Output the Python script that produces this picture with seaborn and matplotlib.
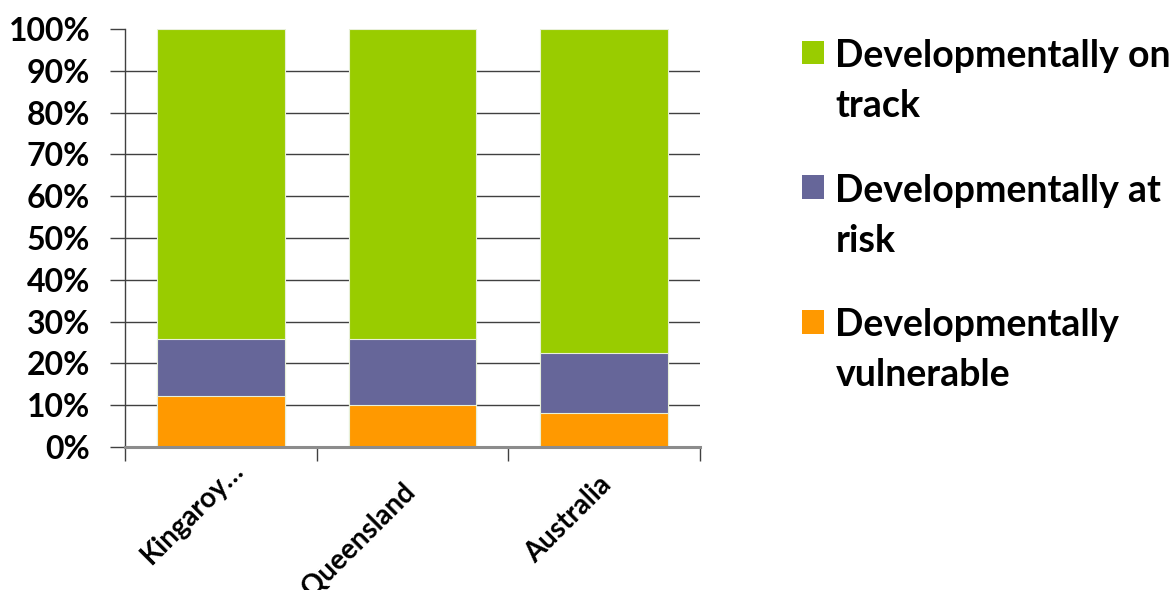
import matplotlib
matplotlib.use("Agg")
import matplotlib.pyplot as plt
import matplotlib.transforms as mtransforms
from matplotlib.patches import Rectangle
from matplotlib.legend_handler import HandlerPatch
import seaborn as sns
import pandas as pd
from matplotlib.ticker import FixedLocator, PercentFormatter

# Share of children in each developmental category (%)
regions = ["Kingaroy…", "Queensland", "Australia"]
vulnerable = [12.2, 10.0, 8.1]
at_risk = [13.6, 15.8, 14.5]
on_track = [74.2, 74.2, 77.4]

series_names = ["Developmentally on\ntrack", "Developmentally at\nrisk", "Developmentally\nvulnerable"]
colors = ["#99CC00", "#666699", "#FF9900"]

# per-label placement of the rotated category names (pixels: right, down)
label_offsets = [(9, 10), (-11, 32), (-6, 24)]

sns.set_theme(style="white")
plt.rcParams["font.family"] = ["Lato", "DejaVu Sans"]
plt.rcParams["font.weight"] = "bold"
plt.rcParams["text.color"] = "black"
plt.rcParams["xtick.labelcolor"] = "black"
plt.rcParams["ytick.labelcolor"] = "black"

df = pd.DataFrame({
    "region": regions,
    "vulnerable": vulnerable,
    "at_risk": at_risk,
    "on_track": on_track,
})
# cumulative tops for stacking
df["top_vuln"] = df["vulnerable"]
df["top_risk"] = df["vulnerable"] + df["at_risk"]
df["top_track"] = df["top_risk"] + df["on_track"]

fig = plt.figure(figsize=(11.72, 5.90), dpi=100)
ax = fig.add_axes([0.1067, 0.2424, 0.4905, 0.7084])

for col, name, c in zip(["top_track", "top_risk", "top_vuln"], series_names, colors):
    sns.barplot(data=df, x="region", y=col, color=c, saturation=1, width=0.665,
                edgecolor="#E8F0D8", linewidth=0.8, label=name, ax=ax, zorder=3)
if ax.get_legend() is not None:
    ax.get_legend().remove()

ax.set_xlim(-0.5, 2.5)
ax.set_ylim(0, 100)
ax.set_xlabel("")
ax.set_ylabel("")

# horizontal gridlines (no line at the top)
for v in range(10, 100, 10):
    ax.axhline(v, color="#404040", lw=1.0, zorder=1)

ax.yaxis.set_major_locator(FixedLocator(list(range(0, 101, 10))))
ax.yaxis.set_major_formatter(PercentFormatter(decimals=0))
ax.tick_params(axis="y", which="major", direction="out", length=11, width=1,
               color="#404040", labelsize=23, pad=14, left=True, labelcolor="black")
for lbl in ax.get_yticklabels():
    lbl.set_fontweight("bold")

# category boundaries as downward ticks; names drawn rotated below
ax.set_xticks([-0.5, 0.5, 1.5, 2.5], minor=True)
ax.tick_params(axis="x", which="minor", direction="out", length=10, width=1,
               color="#404040", bottom=True)
ax.tick_params(axis="x", which="major", length=0, labelbottom=False)
base = ax.get_xaxis_transform()
for i, (name, (dx, dy)) in enumerate(zip(regions, label_offsets)):
    tr = base + mtransforms.ScaledTranslation(dx / 100, -dy / 100, fig.dpi_scale_trans)
    ax.text(i, 0, name, transform=tr, rotation=45, rotation_mode="anchor",
            ha="right", va="top", fontsize=20, fontweight="bold", color="black")

for s in ["top", "right"]:
    ax.spines[s].set_visible(False)
ax.spines["left"].set_color("#404040")
ax.spines["left"].set_linewidth(1)
ax.spines["bottom"].set_color("#8C8C8C")
ax.spines["bottom"].set_linewidth(2.2)
ax.spines["bottom"].set_zorder(4)


def first_line_square(legend, orig_handle, xdescent, ydescent, width, height, fontsize):
    # square keyed to the first line of a two-line label
    return Rectangle((-xdescent, -ydescent + 21), width, height)


legend_fs = 27
handles = [Rectangle((0, 0), 1, 1, facecolor=c, edgecolor="none") for c in colors]
leg = fig.legend(handles, series_names, loc="upper left",
                 bbox_to_anchor=(802 / 1172, 1 - 39 / 590),
                 frameon=False, prop={"family": "Lato", "weight": "bold", "size": legend_fs},
                 handlelength=0.59, handleheight=0.59, handletextpad=0.3,
                 labelspacing=1.35, borderpad=0, borderaxespad=0,
                 labelcolor="black",
                 handler_map={Rectangle: HandlerPatch(patch_func=first_line_square)})
for t in leg.get_texts():
    t.set_linespacing(1.57)

fig.savefig("out.png", dpi=100)
